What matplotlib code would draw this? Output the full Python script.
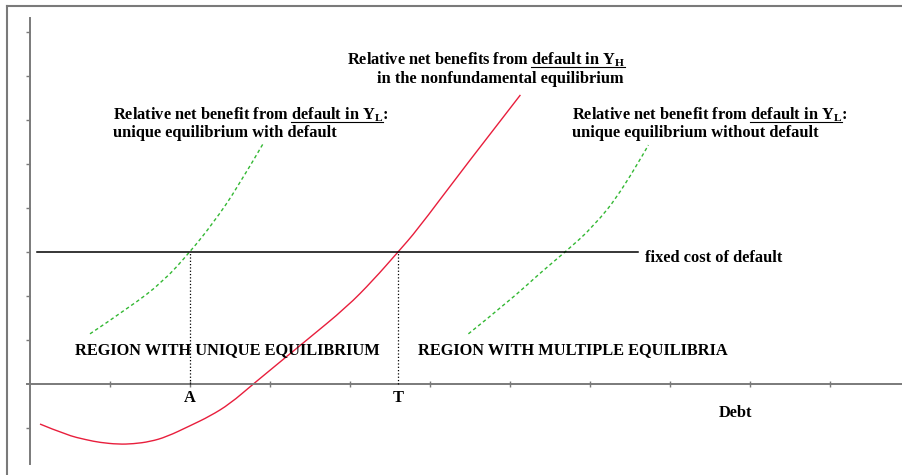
import matplotlib
matplotlib.use("Agg")
import matplotlib.pyplot as plt
from matplotlib.lines import Line2D
from matplotlib.path import Path
from matplotlib.patches import PathPatch
from matplotlib.transforms import IdentityTransform

plt.rcParams["font.family"] = "Liberation Serif"
plt.rcParams["mathtext.fontset"] = "custom"
plt.rcParams["mathtext.rm"] = "Liberation Serif"
plt.rcParams["mathtext.bf"] = "Liberation Serif:bold"
plt.rcParams["mathtext.it"] = "Liberation Serif:italic"

# data (x in tick units along Debt, y in tick units)
red_x = [0.125, 0.458, 0.708, 0.875, 1.104, 1.292, 1.5, 1.708, 2.0, 2.25, 2.5,
         2.79, 3.46, 3.96, 4.29, 4.6, 4.84, 5.375, 6.13]
red_y = [-0.91, -1.16, -1.27, -1.33, -1.37, -1.36, -1.31, -1.20, -0.95, -0.73, -0.45,
         0.0, 1.0, 1.75, 2.36, 3.0, 3.5, 4.8, 6.57]

green_left_x = [0.75, 1.25, 1.66, 2.0, 2.29, 2.59, 2.91]
green_left_y = [1.14, 1.75, 2.32, 3.0, 3.66, 4.45, 5.45]

green_right_x = [5.48, 6.0, 6.375, 6.69, 7.04, 7.41, 7.73]
green_right_y = [1.14, 1.9, 2.52, 3.0, 3.57, 4.41, 5.43]

fixed_cost = 3.0
fixed_cost_x = [0.09, 7.6]
point_A = 2.0
point_T = 4.6
x_ticks = [1, 2, 3, 4, 5, 6, 7, 8, 9, 10]
y_ticks = [-1, 1, 2, 3, 4, 5, 6, 7, 8]

GRAY = "#7a7a7a"
RED = "#e81e3c"
GREEN = "#33b833"
FS = 11.8

fig = plt.figure(figsize=(9.02, 4.75), dpi=100)
ax = fig.add_axes([0, 0, 1, 1])
ax.set_xlim(-30 / 80, 872 / 80)
ax.set_ylim(-91 / 44, 384 / 44)
ax.axis("off")

# outer frame (left and top edges only)
fig.add_artist(Line2D([0.0078, 0.0078], [0, 0.987], color=GRAY, lw=1.5))
fig.add_artist(Line2D([0.0078, 1], [0.987, 0.987], color=GRAY, lw=1.5))

# axes with ticks
ax.plot([-0.04, 10.9], [0, 0], color=GRAY, lw=1.4)
ax.plot([0, 0], [-1.82, 8.32], color=GRAY, lw=1.4)
ax.plot(x_ticks, [0] * len(x_ticks), ls="none", marker="|", ms=4, mew=1, color=GRAY)
ax.plot([0] * len(y_ticks), y_ticks, ls="none", marker=0, ms=3, mew=1, color=GRAY)


def smooth_curve(xs, ys, **kw):
    # quadratic bezier through midpoints, read points act as control points
    pts = list(zip(xs, ys))
    verts = [pts[0]]
    codes = [Path.MOVETO]
    for i in range(1, len(pts) - 1):
        mid = ((pts[i][0] + pts[i + 1][0]) / 2, (pts[i][1] + pts[i + 1][1]) / 2)
        if i == len(pts) - 2:
            mid = pts[-1]
        verts += [pts[i], mid]
        codes += [Path.CURVE3, Path.CURVE3]
    ax.add_patch(PathPatch(Path(verts, codes), fill=False, **kw))


# curves
smooth_curve(red_x, red_y, edgecolor=RED, lw=1.0)
smooth_curve(green_left_x, green_left_y, edgecolor=GREEN, lw=1.0, ls=(0, (2.5, 2)))
smooth_curve(green_right_x, green_right_y, edgecolor=GREEN, lw=1.0, ls=(0, (2.5, 2)))
ax.plot(fixed_cost_x, [fixed_cost, fixed_cost], color="black", lw=1.1)
ax.plot([point_A, point_A], [0, fixed_cost], color="black", lw=0.9, ls=":")
ax.plot([point_T, point_T], [0, fixed_cost], color="black", lw=0.9, ls=":")

renderer = fig.canvas.get_renderer()


def width(s):
    t = ax.text(0, 0, s, fontsize=FS, fontweight="bold")
    w = t.get_window_extent(renderer).width
    t.remove()
    return w


def ul_text(x, y, before, under, after="", ha="left"):
    t = ax.text(x, y, before + under + after, ha=ha, va="baseline",
                fontsize=FS, fontweight="bold")
    bb = t.get_window_extent(renderer)
    x_end = bb.x0 + width(before + under)
    x_start = x_end - width(under)
    base = ax.transData.transform((x, y))[1]
    fig.add_artist(Line2D([x_start, x_end], [base - 2, base - 2],
                          transform=IdentityTransform(), color="black", lw=0.8))


def txt(x, y, s, ha="left"):
    ax.text(x, y, s, ha=ha, va="baseline", fontsize=FS, fontweight="bold")


ul_text(7.4375, 7.25, "Relative net benefits from ", r"default in $\mathbf{Y}_{\mathbf{H}}$", ha="right")
txt(7.425, 6.84, "in the nonfundamental equilibrium", ha="right")

ul_text(1.0375, 6.0, "Relative net benefit from ", r"default in $\mathbf{Y}_{\mathbf{L}}$", ":")
txt(1.0375, 5.61, "unique equilibrium with default")

ul_text(6.775, 6.0, "Relative net benefit from ", r"default in $\mathbf{Y}_{\mathbf{L}}$", ":")
txt(6.775, 5.61, "unique equilibrium without default")

txt(7.6875, 2.77, "fixed cost of default")
txt(0.5625, 0.68, "REGION WITH UNIQUE EQUILIBRIUM")
txt(4.85, 0.68, "REGION WITH MULTIPLE EQUILIBRIA")
txt(point_A, -0.41, "A", ha="center")
txt(point_T, -0.41, "T", ha="center")
txt(8.61, -0.75, "Debt")

fig.savefig("out.png", dpi=100)
